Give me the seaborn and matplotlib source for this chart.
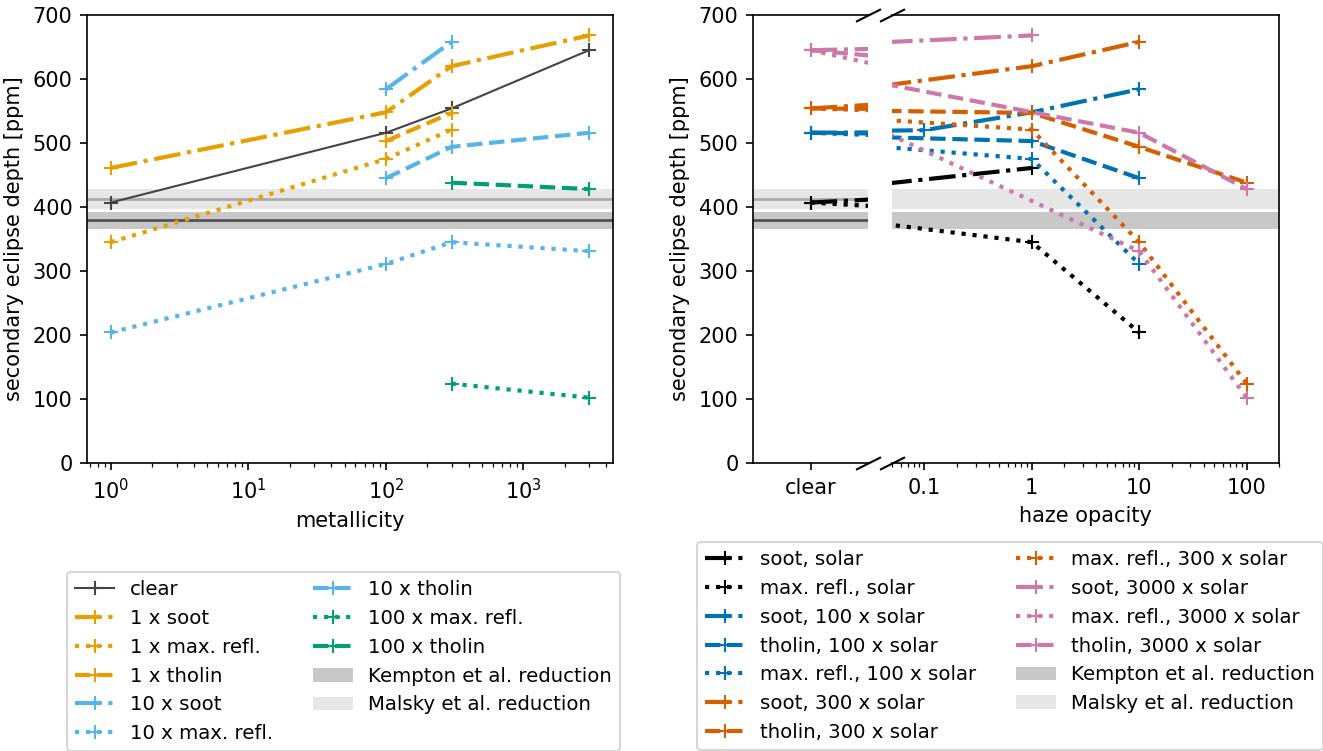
import numpy as np
import pandas as pd
import matplotlib
matplotlib.use("Agg")
import matplotlib.pyplot as plt
from matplotlib.lines import Line2D
from matplotlib.patches import Patch
from matplotlib.ticker import NullLocator
import seaborn as sns

nan = np.nan

# --- data: secondary eclipse depth [ppm] per metallicity (x solar) ---
metallicity = [1, 100, 300, 3000]
clear_depth = [407, 516, 554, 645]

# haze type / haze opacity -> depth at each metallicity
soot_01 = [nan, 520, nan, nan]
soot_1 = [461, 548, 620, 668]
maxrefl_1 = [345, 475, 521, nan]
tholin_1 = [nan, 503, 547, nan]
soot_10 = [nan, 584, 658, nan]
maxrefl_10 = [204, 311, 345, 331]
tholin_10 = [nan, 445, 494, 516]
maxrefl_100 = [nan, nan, 124, 102]
tholin_100 = [nan, nan, 438, 428]

# observed reductions (centre, half width)
kempton = 379
kempton_err = 13
malsky = 413
malsky_err = 15.5

CLEAR_X = 1e-3  # where "clear" sits on the haze opacity axis

table = {
    ("soot", 0.1): soot_01,
    ("soot", 1): soot_1,
    ("max. refl.", 1): maxrefl_1,
    ("tholin", 1): tholin_1,
    ("soot", 10): soot_10,
    ("max. refl.", 10): maxrefl_10,
    ("tholin", 10): tholin_10,
    ("max. refl.", 100): maxrefl_100,
    ("tholin", 100): tholin_100,
}
rows = []
for (haze, tau), vals in table.items():
    for z, d in zip(metallicity, vals):
        if not np.isnan(d):
            rows.append(dict(haze=haze, tau=tau, Z=z, depth=d))
df = pd.DataFrame(rows)

styles = {"soot": "-.", "max. refl.": ":", "tholin": "--"}
tau_colors = {1: "#E69F00", 10: "#56B4E9", 100: "#009E73"}
z_colors = {1: "black", 100: "#0072B2", 300: "#D55E00", 3000: "#CC79A7"}
z_names = {1: "solar", 100: "100 x solar", 300: "300 x solar", 3000: "3000 x solar"}

left_order = [(1, "soot"), (1, "max. refl."), (1, "tholin"),
              (10, "soot"), (10, "max. refl."), (10, "tholin"),
              (100, "max. refl."), (100, "tholin")]
right_order = [(1, "soot"), (1, "max. refl."),
               (100, "soot"), (100, "tholin"), (100, "max. refl."),
               (300, "soot"), (300, "tholin"), (300, "max. refl."),
               (3000, "soot"), (3000, "max. refl."), (3000, "tholin")]

K_COL, M_COL = "#c8c8c8", "#e6e6e6"


def draw(ax, x, y, color, ls, lw=2.0):
    sns.lineplot(x=list(x), y=list(y), ax=ax, color=color, linestyle=ls, lw=lw,
                 marker="+", ms=7, mew=1, mec=color, estimator=None, sort=False)


def bands(ax, lines=True):
    ax.axhspan(kempton - kempton_err, kempton + kempton_err, color=K_COL, lw=0, zorder=0)
    ax.axhspan(malsky - malsky_err, malsky + malsky_err, color=M_COL, lw=0, zorder=0)
    if lines:
        ax.axhline(kempton, color="#505050", lw=1.3, zorder=1)
        ax.axhline(malsky, color="#aaaaaa", lw=1.3, zorder=1)


def handle(color, ls, lw=2.0):
    return Line2D([], [], color=color, ls=ls, lw=lw, marker="+", ms=7, mew=1)


W, H = 1323, 751
fig = plt.figure(figsize=(W / 150, H / 150), dpi=150)
bot, hgt = 1 - 463 / H, 448 / H
ax1 = fig.add_axes([87 / W, bot, 526 / W, hgt])
axc = fig.add_axes([753 / W, bot, 115 / W, hgt])
axh = fig.add_axes([892 / W, bot, 387 / W, hgt], sharey=axc)

# --------------------------------------------------------------
# left: depth vs metallicity
# --------------------------------------------------------------
ax1.set_xscale("log")
bands(ax1)
draw(ax1, metallicity, clear_depth, "#444444", "-", lw=1.0)
left_handles = [handle("#444444", "-", lw=1.0)]
left_labels = ["clear"]
for tau, haze in left_order:
    sub = df[(df.tau == tau) & (df.haze == haze)]
    draw(ax1, sub.Z, sub.depth, tau_colors[tau], styles[haze])
    left_handles.append(handle(tau_colors[tau], styles[haze]))
    left_labels.append(f"{tau} x {haze}")
ax1.set_ylim(0, 700)
ax1.set_xlabel("metallicity")
ax1.set_ylabel("secondary eclipse depth [ppm]")

# --------------------------------------------------------------
# right: depth vs haze opacity (broken axis, clear | log)
# --------------------------------------------------------------
for ax in (axc, axh):
    ax.set_xscale("log")
bands(axc)
bands(axh, lines=False)
right_handles, right_labels = [], []
for z, haze in right_order:
    i = metallicity.index(z)
    sub = df[(df.Z == z) & (df.haze == haze)].sort_values("tau")
    xs = [CLEAR_X] + list(sub.tau)
    ys = [clear_depth[i]] + list(sub.depth)
    for ax in (axc, axh):
        draw(ax, xs, ys, z_colors[z], styles[haze])
    right_handles.append(handle(z_colors[z], styles[haze]))
    right_labels.append(f"{haze}, {z_names[z]}")

axc.set_xlim(10 ** -3.25, 10 ** -2.75)
axc.set_xticks([CLEAR_X], ["clear"])
axc.xaxis.set_minor_locator(NullLocator())
axc.set_ylim(0, 700)
axc.set_ylabel("secondary eclipse depth [ppm]")
axc.spines["right"].set_visible(False)

axh.set_xlim(0.05, 200)
axh.set_xticks([0.1, 1, 10, 100], ["0.1", "1", "10", "100"])
axh.spines["left"].set_visible(False)
axh.tick_params(axis="y", left=False, labelleft=False)
axh.set_xlabel("haze opacity")

d = 0.5
kw = dict(marker=[(-1, -d), (1, d)], markersize=12, linestyle="none",
          color="k", mec="k", mew=1, clip_on=False)
axc.plot([1, 1], [0, 1], transform=axc.transAxes, **kw)
axh.plot([0, 0], [0, 1], transform=axh.transAxes, **kw)

# legends
band_handles = [Patch(color=K_COL, lw=0), Patch(color=M_COL, lw=0)]
band_labels = ["Kempton et al. reduction", "Malsky et al. reduction"]
fig.legend(left_handles + band_handles, left_labels + band_labels, ncol=2,
           fontsize=9.5, loc="upper left", bbox_to_anchor=(57 / W, 1 - 562 / H))
fig.legend(right_handles + band_handles, right_labels + band_labels, ncol=2,
           fontsize=9.5, loc="upper left", bbox_to_anchor=(687 / W, 1 - 532 / H))

fig.savefig("out.png", dpi=150)
